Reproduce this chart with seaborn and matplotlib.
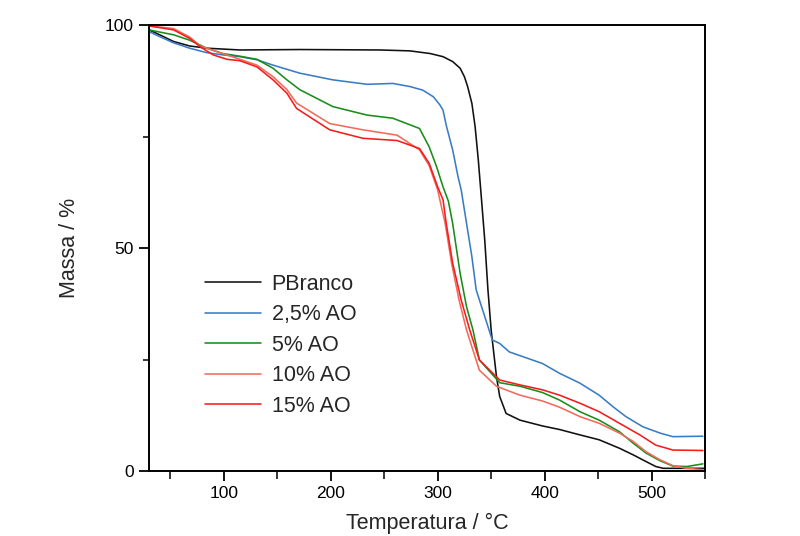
import numpy as np
import pandas as pd
import matplotlib
matplotlib.use("Agg")
import matplotlib.pyplot as plt
from matplotlib.ticker import MultipleLocator
import seaborn as sns

series_names = ["PBranco", "2,5% AO", "5% AO", "10% AO", "15% AO"]
series_colors = ["#111111", "#3a7cc4", "#1a8c1a", "#f26a5a", "#f41c1c"]

pbranco_x = [30, 40, 53, 68, 84, 115, 171, 246, 274, 293, 305, 314, 321, 325, 328, 332, 335, 338, 341, 344, 347, 350, 355, 358, 364, 377, 398, 414, 433, 451, 470, 483, 495, 504, 511, 550]
pbranco_y = [98.9, 97.8, 96.3, 95.3, 94.8, 94.4, 94.5, 94.4, 94.2, 93.6, 92.9, 91.8, 90.3, 88.4, 86.2, 82.4, 77.2, 69.7, 60.8, 51.8, 40.6, 31.6, 21.1, 16.7, 12.9, 11.4, 10.1, 9.3, 8.1, 7.0, 5.1, 3.6, 2.1, 1.0, 0.6, 0.6]

ao25_x = [30, 40, 53, 68, 84, 99, 115, 131, 146, 171, 202, 234, 258, 274, 286, 296, 302, 305, 308, 314, 319, 322, 327, 332, 336, 347, 351, 358, 367, 398, 414, 433, 451, 464, 476, 492, 508, 520, 548]
ao25_y = [98.5, 97.4, 96.0, 94.8, 93.8, 93.3, 92.9, 92.2, 91.0, 89.2, 87.7, 86.7, 86.9, 86.2, 85.4, 83.9, 82.1, 80.9, 77.5, 72.0, 66.0, 63.0, 55.5, 48.0, 40.6, 32.4, 29.4, 28.6, 26.7, 24.1, 21.9, 19.7, 17.0, 14.4, 12.2, 9.9, 8.5, 7.7, 7.8]

ao5_x = [30, 53, 68, 84, 99, 115, 131, 146, 159, 171, 202, 234, 258, 283, 292, 299, 305, 310, 314, 321, 327, 333, 339, 358, 377, 398, 414, 433, 451, 470, 483, 495, 508, 520, 533, 548]
ao5_y = [98.9, 97.8, 96.6, 94.8, 93.6, 93.0, 92.3, 90.3, 87.7, 85.5, 81.7, 79.8, 79.1, 76.8, 72.7, 68.2, 63.7, 60.5, 55.5, 44.3, 36.8, 31.6, 24.9, 19.8, 19.0, 17.6, 15.9, 13.3, 11.4, 8.8, 6.2, 4.0, 2.3, 1.1, 1.0, 1.6]

ao10_x = [30, 53, 68, 78, 99, 115, 131, 146, 159, 168, 199, 230, 262, 283, 292, 300, 307, 313, 320, 327, 339, 355, 377, 398, 414, 433, 451, 470, 483, 495, 508, 520, 533, 548]
ao10_y = [99.8, 99.2, 97.3, 95.3, 93.6, 92.3, 91.0, 88.4, 85.5, 82.5, 77.9, 76.5, 75.3, 72.0, 68.5, 63.0, 55.5, 46.6, 38.3, 31.6, 22.6, 19.0, 17.0, 15.7, 14.3, 12.2, 10.7, 8.5, 6.6, 4.3, 2.5, 1.2, 0.6, 0.3]

ao15_x = [30, 53, 68, 78, 90, 103, 115, 131, 146, 159, 168, 199, 230, 262, 283, 292, 300, 305, 308, 314, 322, 330, 339, 358, 377, 398, 414, 433, 451, 470, 489, 504, 520, 548]
ao15_y = [99.8, 98.9, 97.0, 95.1, 93.3, 92.3, 92.0, 90.6, 87.7, 84.7, 81.3, 76.5, 74.6, 74.1, 72.3, 69.0, 63.7, 60.8, 55.5, 46.6, 38.3, 31.6, 24.9, 20.4, 19.3, 18.2, 17.0, 15.2, 13.3, 10.7, 8.1, 5.8, 4.7, 4.6]

xs = [pbranco_x, ao25_x, ao5_x, ao10_x, ao15_x]
ys = [pbranco_y, ao25_y, ao5_y, ao10_y, ao15_y]

frames = []
for name, x, y in zip(series_names, xs, ys):
    frames.append(pd.DataFrame({"Temperatura": x, "Massa": y, "Amostra": name}))
df = pd.concat(frames, ignore_index=True)

sns.set_style("ticks")
plt.rcParams["font.family"] = ["Liberation Sans", "DejaVu Sans"]

fig = plt.figure(figsize=(8.0, 5.36), dpi=100)
ax = fig.add_axes([149 / 800, 1 - 471 / 536, (705 - 149) / 800, (471 - 25) / 536])

sns.lineplot(data=df, x="Temperatura", y="Massa", hue="Amostra",
             hue_order=series_names, palette=series_colors,
             estimator=None, sort=False, linewidth=1.15, ax=ax)

ax.set_xlim(30, 550)
ax.set_ylim(0, 100)
ax.xaxis.set_major_locator(MultipleLocator(100))
ax.xaxis.set_minor_locator(MultipleLocator(50))
ax.yaxis.set_major_locator(MultipleLocator(50))
ax.yaxis.set_minor_locator(MultipleLocator(25))

for s in ax.spines.values():
    s.set_linewidth(1.4)
    s.set_color("black")
ax.tick_params(axis="both", which="major", direction="out", length=7, width=1.3,
               labelsize=12.5, pad=4, colors="black")
ax.tick_params(axis="x", which="minor", direction="out", length=6, width=1.3)
ax.tick_params(axis="y", which="minor", direction="out", length=4, width=1.3)

ax.set_xlabel("Temperatura / °C", fontsize=15.5, labelpad=8)
ax.set_ylabel("Massa / %", fontsize=15.5, labelpad=18)

handles, labels = ax.get_legend_handles_labels()
leg = ax.legend(handles, labels, loc="upper left",
                bbox_to_anchor=((205 - 149) / 556, (471 - 274) / 446),
                frameon=False, fontsize=15.5, handlelength=2.6, handletextpad=0.5,
                labelspacing=0.44, borderpad=0, borderaxespad=0)
for lh in leg.get_lines():
    lh.set_linewidth(1.15)

fig.savefig("out.png", dpi=100)
